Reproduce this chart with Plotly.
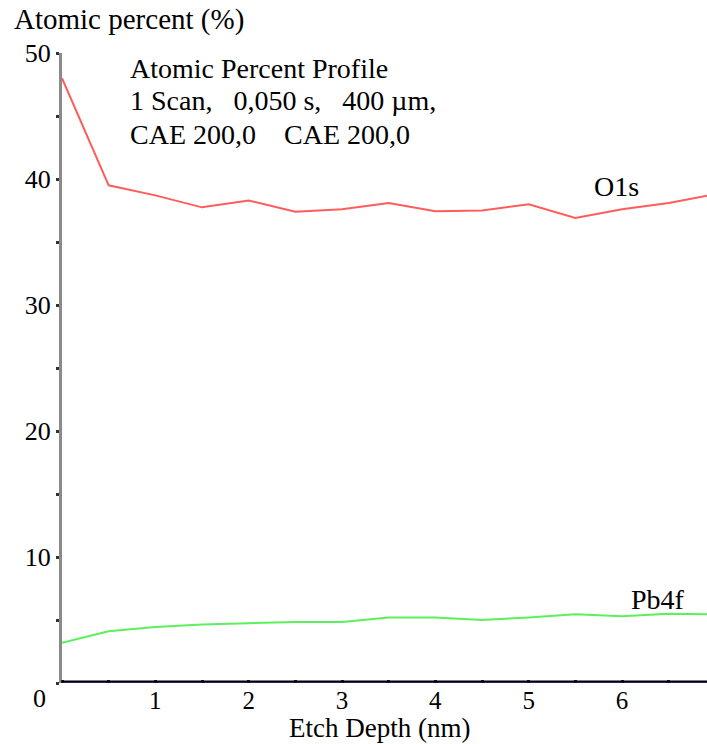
import plotly.graph_objects as go

depth = [0, 0.5, 1, 1.5, 2, 2.5, 3, 3.5, 4, 4.5, 5, 5.5, 6, 6.5, 7]
o1s = [48.0, 39.5, 38.7, 37.75, 38.3, 37.4, 37.6, 38.1, 37.45, 37.5, 38.0, 36.9, 37.6, 38.1, 38.8]
pb4f = [3.2, 4.1, 4.45, 4.65, 4.75, 4.85, 4.85, 5.2, 5.2, 5.0, 5.2, 5.45, 5.3, 5.5, 5.45]
other = [0] * len(depth)

x_ticks = [1, 2, 3, 4, 5, 6]
y_ticks = [10, 20, 30, 40, 50]

info_lines = ["Atomic Percent Profile", "1 Scan,   0,050 s,   400 µm,", "CAE 200,0    CAE 200,0"]

FONT = "Liberation Serif, Times New Roman, serif"

fig = go.Figure()
fig.add_trace(go.Scatter(x=depth, y=other, mode="lines", line=dict(color="#4848d8", width=2),
                         cliponaxis=False, showlegend=False, hoverinfo="skip"))
fig.add_trace(go.Scatter(x=depth, y=o1s, mode="lines", name="O1s",
                         line=dict(color="#ff5c5c", width=2), showlegend=False))
fig.add_trace(go.Scatter(x=depth, y=pb4f, mode="lines", name="Pb4f",
                         line=dict(color="#5cf05c", width=2), showlegend=False))

# black x axis line sitting just above the blue baseline
fig.add_shape(type="line", xref="paper", x0=0, x1=1, yref="y", ysizemode="pixel",
              yanchor=0, y0=1.5, y1=1.5, line=dict(color="black", width=2), layer="above")

fig.update_xaxes(range=[0, 6.91], tickvals=x_ticks, ticktext=[str(v) for v in x_ticks],
                 ticks="", showgrid=False, zeroline=False, showline=False,
                 tickfont=dict(family=FONT, size=25, color="black"),
                 minor=dict(dtick=0.5, tick0=0, ticks="inside", ticklen=3, tickwidth=3,
                            tickcolor="#222", showgrid=False))
fig.update_yaxes(range=[0, 50], tickvals=y_ticks, ticktext=[str(v) for v in y_ticks],
                 ticks="outside", ticklen=3, tickwidth=3, tickcolor="#333",
                 showgrid=False, zeroline=False, showline=True, linecolor="#8a8a8a", linewidth=3,
                 tickfont=dict(family=FONT, size=26, color="black"),
                 minor=dict(dtick=5, tick0=0, ticks="outside", ticklen=3, tickwidth=3,
                            tickcolor="#333", showgrid=False))

PLOT_H = 630
def py(pixel):
    return (683 - pixel) / PLOT_H

fig.add_annotation(text="Etch Depth (nm)", xref="paper", yref="paper", x=0.492, y=py(744),
                   xanchor="center", yanchor="bottom", showarrow=False, borderpad=0,
                   font=dict(family=FONT, size=27, color="black"))
fig.add_annotation(text="Atomic percent (%)", xref="paper", yref="paper", x=-0.078, y=py(20),
                   xanchor="left", yanchor="middle", showarrow=False,
                   font=dict(family=FONT, size=29, color="black"))
fig.add_annotation(text="0", xref="paper", yref="paper", x=-0.022, y=py(698),
                   xanchor="right", yanchor="middle", showarrow=False,
                   font=dict(family=FONT, size=26, color="black"))
for line, ypx in zip(info_lines, [68, 101, 134]):
    fig.add_annotation(text=line, xref="paper", yref="paper", x=0.102,
                       y=py(ypx), xanchor="left", yanchor="middle",
                       align="left", showarrow=False,
                       font=dict(family=FONT, size=28, color="black"))
fig.add_annotation(text="O1s", xref="x", yref="y", x=5.94, y=39.4, xanchor="center",
                   yanchor="middle", showarrow=False, font=dict(family=FONT, size=28, color="black"))
fig.add_annotation(text="Pb4f", xref="x", yref="y", x=6.38, y=6.6, xanchor="center",
                   yanchor="middle", showarrow=False, font=dict(family=FONT, size=28, color="black"))

fig.update_layout(width=707, height=744, margin=dict(l=62, r=0, t=53, b=61),
                  paper_bgcolor="white", plot_bgcolor="white", showlegend=False)

# remove the default 8px page margin so the figure fills the window exactly
fig.write_html("out.html", config={"displayModeBar": False},
               post_script="document.body.style.margin='0';document.body.style.overflow='hidden';")
